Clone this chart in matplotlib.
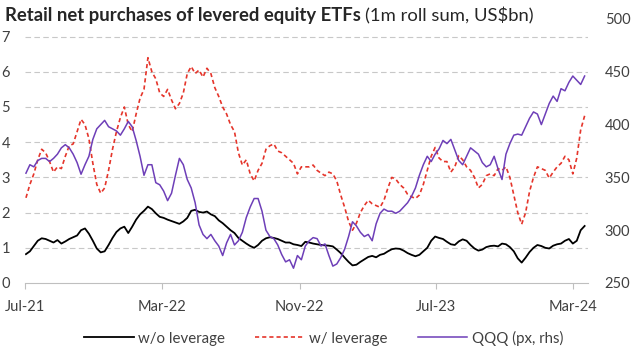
import matplotlib
matplotlib.use("Agg")
import matplotlib.pyplot as plt
import pandas as pd

plt.rcParams['font.family'] = ['Lato', 'DejaVu Sans']

start_date = "2021-07-02"

wo_leverage = [
    0.82, 0.90, 1.05, 1.20, 1.27, 1.25, 1.20, 1.15, 1.22, 1.12,
    1.18, 1.25, 1.30, 1.35, 1.50, 1.55, 1.40, 1.20, 0.98, 0.87,
    0.90, 1.08, 1.28, 1.45, 1.55, 1.60, 1.42, 1.60, 1.80, 1.95,
    2.05, 2.17, 2.10, 1.98, 1.88, 1.85,
    1.80, 1.76, 1.72, 1.68, 1.75, 1.85, 2.05, 2.08, 2.02, 2.00,
    2.03, 1.95, 1.90, 1.78, 1.70, 1.60, 1.50, 1.42, 1.28, 1.20,
    1.12, 1.05, 1.00, 1.08, 1.20, 1.27, 1.30, 1.28, 1.25, 1.20,
    1.15, 1.15, 1.10, 1.08, 1.05,
    1.17, 1.15, 1.12, 1.10, 1.08, 1.07, 1.06, 1.04, 0.95, 0.85,
    0.72, 0.60, 0.50, 0.52, 0.60, 0.67, 0.74, 0.77, 0.73, 0.80,
    0.83, 0.90, 0.96, 0.98, 0.97, 0.92, 0.85, 0.80, 0.76, 0.80,
    0.90, 1.00, 1.20, 1.32, 1.28, 1.25,
    1.17, 1.10, 1.08, 1.18, 1.24, 1.20, 1.08, 0.98, 0.92, 0.95,
    1.02, 1.05, 1.06, 1.04, 1.12, 1.10, 1.02, 0.90, 0.70, 0.58,
    0.72, 0.88, 1.00, 1.08, 1.05, 1.00, 0.98, 1.06, 1.10, 1.12,
    1.20, 1.25, 1.12, 1.20, 1.50, 1.62,
]

w_leverage = [
    2.42, 2.80, 3.10, 3.50, 3.80, 3.70, 3.45, 3.15, 3.30, 3.25,
    3.60, 3.90, 3.95, 4.30, 4.65, 4.50, 4.10, 3.40, 2.80, 2.55,
    2.70, 3.20, 3.80, 4.30, 4.70, 5.00, 4.50, 4.30, 4.80, 5.25,
    5.50, 6.40, 6.00, 5.80, 5.40, 5.30,
    5.50, 5.20, 4.95, 5.10, 5.40, 5.95, 6.15, 5.95, 6.05, 5.85,
    6.10, 5.95, 5.55, 5.30, 5.00, 4.80, 4.50, 4.30, 3.70, 3.35,
    3.50, 3.10, 2.90, 3.20, 3.40, 3.80, 3.90, 3.95, 3.75, 3.70,
    3.60, 3.50, 3.40, 3.10, 3.30,
    3.30, 3.30, 3.35, 3.20, 3.12, 3.05, 3.15, 3.10, 2.90, 2.50,
    2.15, 1.75, 1.50, 1.70, 2.00, 2.20, 2.35, 2.25, 2.20, 2.15,
    2.35, 2.70, 3.00, 2.95, 2.80, 2.70, 2.52, 2.45, 2.40, 2.50,
    2.80, 3.20, 3.60, 3.85, 3.55, 3.45,
    3.45, 3.15, 3.30, 3.62, 3.50, 3.30, 3.20, 3.00, 2.70, 2.80,
    3.05, 3.10, 3.05, 3.25, 3.20, 3.30, 3.00, 2.50, 2.00, 1.67,
    2.00, 2.60, 3.00, 3.30, 3.25, 3.20, 2.98, 3.15, 3.30, 3.40,
    3.60, 3.50, 3.10, 3.55, 4.35, 4.75,
]

qqq = [
    354, 362, 360, 366, 368, 368, 365, 368, 372, 378,
    381, 378, 372, 364, 353, 362, 370, 386, 396, 400,
    404, 398, 396, 394, 390, 396, 403, 398, 385, 370,
    352, 362, 362, 345, 343, 337,
    328, 335, 352, 368, 362, 348, 340, 326, 305, 296,
    292, 296, 290, 285, 276, 288, 296, 286, 290, 298,
    312, 322, 330, 330, 318, 300, 294, 292, 286, 277,
    270, 272, 264, 276, 272,
    285, 290, 293, 292, 285, 287, 276, 266, 268, 274,
    282, 294, 308, 304, 298, 294, 296, 290, 306, 316,
    320, 318, 318, 316, 318, 322, 326, 332, 340, 352,
    362, 370, 365, 372, 377, 385,
    382, 386, 376, 366, 362, 370, 378, 375, 372, 364,
    360, 362, 370, 358, 348, 372, 382, 390, 391, 390,
    398, 406, 412, 410, 400, 410, 420, 427, 422, 434,
    432, 440, 446, 442, 438, 446,
]

tick_dates = ["2021-07-01", "2022-03-01", "2022-11-01", "2023-07-01", "2024-03-01"]
tick_labels = ["Jul-21", "Mar-22", "Nov-22", "Jul-23", "Mar-24"]

dates = pd.date_range(start_date, periods=len(qqq), freq="7D")

fig = plt.figure(figsize=(6.36, 3.6), dpi=100)
ax = fig.add_axes([25.4/636, 1 - 283/360, (588 - 25.4)/636, (283 - 19)/360])
ax2 = ax.twinx()

black_c = "#000000"
red_c = "#E5352B"
purple_c = "#6E3FB8"
grid_c = "#C8C8C8"
text_c = "#404040"

l1, = ax.plot(dates, wo_leverage, color=black_c, lw=1.3, label="w/o leverage", zorder=3)
l2, = ax.plot(dates, w_leverage, color=red_c, lw=1.2, ls=(0, (2.5, 1.8)), label="w/ leverage", zorder=3)
l3, = ax2.plot(dates, qqq, color=purple_c, lw=1.1, label="QQQ (px, rhs)", zorder=3)

ax.set_ylim(0, 7.5)
ax.set_yticks(range(0, 8))
ax2.set_ylim(250, 500)
ax2.set_yticks(range(250, 501, 50))
ax.set_xlim(pd.Timestamp("2021-07-01"), pd.Timestamp("2024-03-28"))
ax.set_xticks([pd.Timestamp(d) for d in tick_dates])
ax.set_xticklabels(tick_labels)

for a in (ax, ax2):
    for s in a.spines.values():
        s.set_visible(False)
ax.spines['bottom'].set_visible(True)
ax.spines['bottom'].set_color("#BFBFBF")
ax.spines['bottom'].set_linewidth(0.8)

for v in range(1, 8):
    ax.axhline(v, color=grid_c, lw=0.8, ls=(0, (5, 3)), zorder=1)

ax.tick_params(axis='y', length=0, pad=11, labelsize=10.5, labelcolor=text_c)
ax2.tick_params(axis='y', length=0, pad=12, labelsize=10.5, labelcolor=text_c)
ax.tick_params(axis='x', length=4, width=0.8, color="#BFBFBF", direction='out', pad=8,
               labelsize=10.5, labelcolor=text_c)

# Title: bold part + normal part
t1 = fig.text(5/636, 1 - 16/360, "Retail net purchases of levered equity ETFs",
              fontsize=13.3, fontweight='bold', color="#262626", va='center', ha='left')
fig.canvas.draw()
bb = t1.get_window_extent()
fig.text((bb.x1 + 4)/636, 1 - 16/360, "(1m roll sum, US$bn)",
         fontsize=13.3, color="#262626", va='center', ha='left')

fig.legend(handles=[l1, l2, l3], loc='center', bbox_to_anchor=(0.509, 1 - 338/360),
           ncol=3, frameon=False, fontsize=10.8, handlelength=3.3, handletextpad=0.3,
           columnspacing=2.0, labelcolor=text_c)

fig.savefig("out.png", dpi=100)
